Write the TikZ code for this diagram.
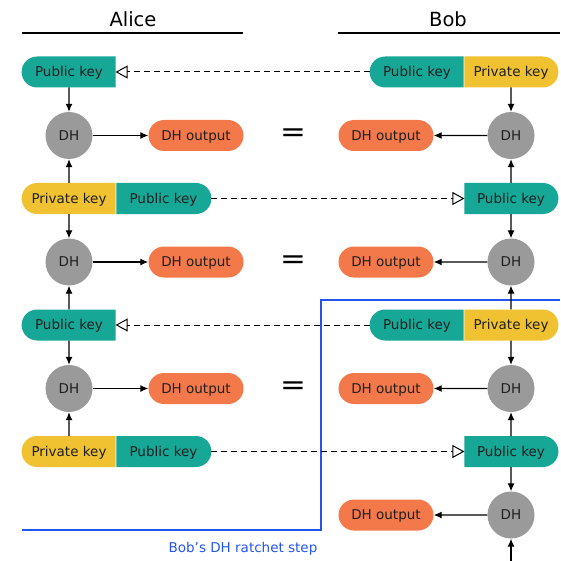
\documentclass[tikz,border=0pt]{standalone}
\usepackage{fontspec}
\setmainfont{DejaVu Sans}
\usetikzlibrary{arrows.meta,shapes.misc}
\definecolor{keyteal}{RGB}{22,167,150}
\definecolor{keyyellow}{RGB}{240,193,48}
\definecolor{outorange}{RGB}{243,121,74}
\definecolor{dhgrey}{RGB}{154,154,154}
\definecolor{ratchetblue}{RGB}{34,85,238}
\tikzset{
  lbl/.style={font=\fontsize{13.5}{15}\selectfont, text=black!88, text height=9.8pt, text depth=0pt},
  keybase/.style={lbl, minimum width=94pt, minimum height=31pt, inner sep=0pt, outer sep=0pt},
  keyL/.style={keybase, rounded rectangle, rounded rectangle right arc=none},
  keyR/.style={keybase, rounded rectangle, rounded rectangle left arc=none},
  pub/.style={fill=keyteal},
  priv/.style={fill=keyyellow},
  dhnode/.style={lbl, circle, fill=dhgrey, minimum size=47pt, inner sep=0pt},
  dhout/.style={lbl, rounded rectangle, fill=outorange, minimum width=95pt, minimum height=31pt, inner sep=0pt},
  eqsign/.style={font=\fontsize{28}{30}\selectfont, xscale=1.1},
  headtext/.style={font=\fontsize{19.5}{22}\selectfont},
  hrule/.style={line width=1.3pt},
  flow/.style={-{Latex[length=8pt,width=7pt]}, line width=1.1pt},
  sendkey/.style={-{Triangle[open,length=12pt,width=13pt]}, dash pattern=on 6pt off 4pt, line width=1pt},
  ratchet/.style={draw=ratchetblue, line width=2.3pt},
}
\begin{document}
\begin{tikzpicture}[x=1pt,y=-1pt]
\useasboundingbox (0,0) rectangle (560,561);
% ratchet boundary (behind)
\draw[ratchet] (22,530) -- (321,530) -- (321,300) -- (560,300);
\node[lbl, text=ratchetblue] (ratchetlabel) at (243,548) {Bob’s DH ratchet step};
% headers
\node[headtext] (alice) at (133,19) {Alice};
\node[headtext] (bob) at (448,19) {Bob};
\coordinate (alA) at (22,33); \coordinate (alB) at (243,33);
\coordinate (blA) at (338,33); \coordinate (blB) at (560,33);
\draw[hrule] (alA) -- (alB);
\draw[hrule] (blA) -- (blB);
% row 1
\node[keyL,pub] (aPub1) at (69,72) {Public key};
\node[keyL,pub] (bPub1) at (417,72) {Public key};
\node[keyR,priv] (bPriv1) at (511,72) {Private key};
% row 2
\node[dhnode] (dhA2) at (69,135.5) {DH};
\node[dhout] (outA2) at (196,135.5) {DH output};
\node[eqsign] (eq2) at (293,135.5) {=};
\node[dhout] (outB2) at (386,135.5) {DH output};
\node[dhnode] (dhB2) at (511,135.5) {DH};
% row 3
\node[keyL,priv] (aPriv3) at (69,198.5) {Private key};
\node[keyR,pub,minimum width=95pt] (aPub3) at (163.5,198.5) {Public key};
\node[keyR,pub] (bPub3) at (511,198.5) {Public key};
% row 4
\node[dhnode] (dhA4) at (69,262) {DH};
\node[dhout] (outA4) at (196,262) {DH output};
\node[eqsign] (eq4) at (293,262) {=};
\node[dhout] (outB4) at (386,262) {DH output};
\node[dhnode] (dhB4) at (511,262) {DH};
% row 5
\node[keyL,pub] (aPub5) at (69,325) {Public key};
\node[keyL,pub] (bPub5) at (417,325) {Public key};
\node[keyR,priv] (bPriv5) at (511,325) {Private key};
% row 6
\node[dhnode] (dhA6) at (69,388.5) {DH};
\node[dhout] (outA6) at (196,388.5) {DH output};
\node[eqsign] (eq6) at (293,388.5) {=};
\node[dhout] (outB6) at (386,388.5) {DH output};
\node[dhnode] (dhB6) at (511,388.5) {DH};
% row 7
\node[keyL,priv] (aPriv7) at (69,451.5) {Private key};
\node[keyR,pub,minimum width=95pt] (aPub7) at (163.5,451.5) {Public key};
\node[keyR,pub] (bPub7) at (511,451.5) {Public key};
% row 8
\node[dhout] (outB8) at (386,515) {DH output};
\node[dhnode] (dhB8) at (511,515) {DH};
\coordinate (bEnd) at (511,561);
% Alice vertical flows
\draw[flow] (aPub1) -- (dhA2);
\draw[flow] (aPriv3) -- (dhA2);
\draw[flow] (aPriv3) -- (dhA4);
\draw[flow] (aPub5) -- (dhA4);
\draw[flow] (aPub5) -- (dhA6);
\draw[flow] (aPriv7) -- (dhA6);
% Bob vertical flows
\draw[flow] (bPriv1) -- (dhB2);
\draw[flow] (bPub3) -- (dhB2);
\draw[flow] (bPub3) -- (dhB4);
\draw[flow] (bPriv5) -- (dhB4);
\draw[flow] (bPriv5) -- (dhB6);
\draw[flow] (bPub7) -- (dhB6);
\draw[flow] (bPub7) -- (dhB8);
\draw[flow] (bEnd) -- (dhB8);
% outputs
\draw[flow] (dhA2) -- (outA2);
\draw[flow] (dhA4) -- (outA4);
\draw[flow] (dhA6) -- (outA6);
\draw[flow] (dhB2) -- (outB2);
\draw[flow] (dhB4) -- (outB4);
\draw[flow] (dhB6) -- (outB6);
\draw[flow] (dhB8) -- (outB8);
% key exchange
\draw[sendkey] (bPub1.west) -- (aPub1.east);
\draw[sendkey] (aPub3.east) -- (bPub3.west);
\draw[sendkey] (bPub5.west) -- (aPub5.east);
\draw[sendkey] (aPub7.east) -- (bPub7.west);
\end{tikzpicture}
\end{document}
